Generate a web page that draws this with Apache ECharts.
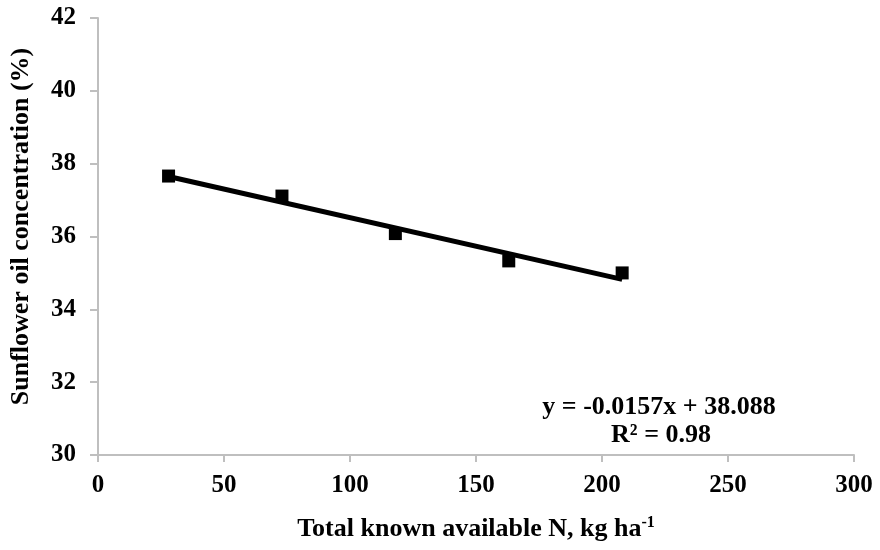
<!DOCTYPE html>
<html>
<head>
<meta charset="utf-8">
<script src="https://cdn.jsdelivr.net/npm/echarts@6/dist/echarts.min.js"></script>
<style>html,body{margin:0;padding:0;background:#fff}#c{width:880px;height:550px}</style>
</head>
<body>
<div id="c"></div>
<script>
const xValues = [28, 73, 118, 163, 208];
const yValues = [37.66, 37.11, 36.08, 35.33, 35.0];
const trendSlope = -0.0157;
const trendIntercept = 38.088;
const trendX = [28, 208];
const xTicks = [0, 50, 100, 150, 200, 250, 300];
const yTicks = [30, 32, 34, 36, 38, 40, 42];
const equationText = 'y = -0.0157x + 38.088';
const r2Text = 'R² = 0.98';

const font = '"Liberation Serif", "Times New Roman", serif';
const chart = echarts.init(document.getElementById('c'));
chart.setOption({
  animation: false,
  backgroundColor: '#fff',
  grid: { left: 96, right: 26, top: 18, bottom: 95 },
  xAxis: {
    type: 'value', min: xTicks[0], max: xTicks[xTicks.length-1], interval: 50,
    name: '{t|Total known available N, kg ha}{s|-1}',
    nameLocation: 'middle', nameGap: 60,
    nameTextStyle: { rich: {
      t: { fontFamily: font, fontWeight: 'bold', fontSize: 26, color: '#000' },
      s: { fontFamily: font, fontWeight: 'bold', fontSize: 16, color: '#000', verticalAlign: 'top', padding: [0,0,12,0] }
    }},
    axisLine: { show: true, lineStyle: { color: '#bfbfbf', width: 2 } },
    axisTick: { show: true, length: 7, lineStyle: { color: '#bfbfbf', width: 2 } },
    splitLine: { show: false },
    axisLabel: { fontFamily: font, fontWeight: 'bold', fontSize: 25, color: '#000', margin: 18 }
  },
  yAxis: {
    type: 'value', min: yTicks[0], max: yTicks[yTicks.length-1], interval: 2,
    name: 'Sunflower oil concentration (%)',
    nameLocation: 'middle', nameGap: 64, nameRotate: 90,
    nameTextStyle: { fontFamily: font, fontWeight: 'bold', fontSize: 26, color: '#000', padding: [0, 0, 0, 20] },
    axisLine: { show: true, lineStyle: { color: '#bfbfbf', width: 2 } },
    axisTick: { show: true, length: 8, lineStyle: { color: '#bfbfbf', width: 2 } },
    splitLine: { show: false },
    axisLabel: { fontFamily: font, fontWeight: 'bold', fontSize: 25, color: '#000', margin: 22 }
  },
  series: [
    {
      type: 'line',
      data: trendX.map(x => [x, trendSlope * x + trendIntercept]),
      showSymbol: false, symbol: 'none',
      lineStyle: { color: '#000', width: 5 },
      z: 2
    },
    {
      type: 'scatter',
      data: xValues.map((x, i) => [x, yValues[i]]),
      symbol: 'rect', symbolSize: 13,
      itemStyle: { color: '#000', opacity: 1 },
      z: 3
    }
  ],
  graphic: [
    { type: 'text', x: 659, y: 407, style: { text: equationText, fontFamily: font, fontWeight: 'bold', fontSize: 26, fill: '#000', align: 'center', verticalAlign: 'middle' } },
    { type: 'text', x: 661, y: 435, style: { text: r2Text, fontFamily: font, fontWeight: 'bold', fontSize: 26, fill: '#000', align: 'center', verticalAlign: 'middle' } }
  ]
});
</script>
</body>
</html>
